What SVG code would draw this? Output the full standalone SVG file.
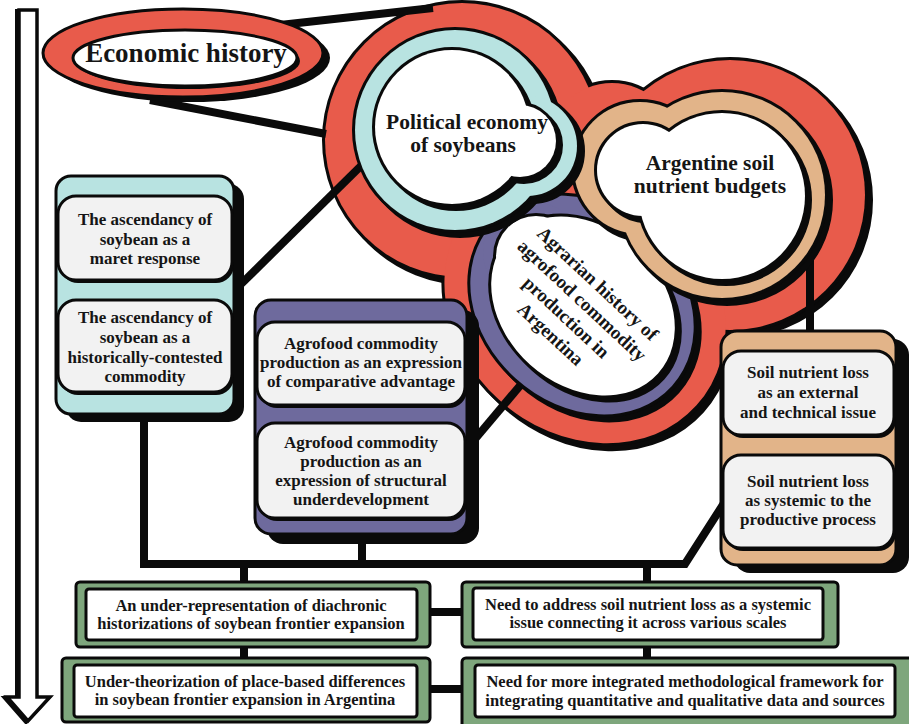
<svg xmlns="http://www.w3.org/2000/svg" width="909" height="724" viewBox="0 0 909 724">
<style>
.t{font-family:'Liberation Serif','Times New Roman',serif;font-weight:bold;fill:#151515;text-anchor:middle}
.tb{font-size:17px}
.tg{font-size:16.5px}
.tc{font-size:21.5px}
.ta{font-size:19px}
.sh{fill:#0a0a0a;stroke:#0a0a0a;stroke-width:6}
.ol{stroke:#0a0a0a;stroke-width:6}
.k{fill:#0a0a0a}
.bd{stroke:#0a0a0a;stroke-width:3}
.conn{stroke:#0a0a0a;stroke-width:8;fill:none;stroke-linejoin:miter}
.red{fill:#e85b4b}
.cyan{fill:#b8e3e1}
.tan{fill:#e2b489}
.pur{fill:#6e6a9d}
.wh{fill:#ffffff}
.lg{fill:#f2f2f2}
.grn{fill:#7ea67c}
</style>
<defs>
<g id="s-red">
<circle cx="462" cy="140" r="137"/>
<circle cx="730" cy="195" r="135"/>
<circle cx="612" cy="148" r="65"/>
<ellipse cx="585" cy="305" rx="150" ry="128" transform="rotate(42 585 305)"/>
</g>
<g id="s-pur-out">
<ellipse cx="582" cy="305" rx="121" ry="99" transform="rotate(42 582 305)"/>
<circle cx="533" cy="252" r="50"/>
</g>
<g id="s-pur-in">
<ellipse cx="583" cy="306" rx="101" ry="79" transform="rotate(42 583 306)"/>
<circle cx="536" cy="256" r="40"/>
</g>
<g id="s-tan-out">
<circle cx="722" cy="195" r="103"/>
<circle cx="640" cy="168" r="66"/>
</g>
<g id="s-tan-in">
<circle cx="722" cy="196" r="83"/>
<circle cx="643" cy="170" r="46"/>
</g>
<g id="s-cyan-out">
<circle cx="455" cy="130" r="100"/>
<circle cx="527" cy="146" r="50"/>
</g>
<g id="s-cyan-in">
<circle cx="452" cy="127" r="77"/>
<circle cx="520" cy="141" r="36"/>
</g>
</defs>

<rect width="909" height="724" fill="#ffffff"/>

<g id="economic-history-field">
<use href="#s-red" class="sh" transform="translate(5,5)"/>
<use href="#s-red" class="red ol"/>
<use href="#s-red" class="red"/>
</g>

<g id="connectors" class="conn">
<line x1="280" y1="25" x2="433" y2="8"/>
<line x1="150" y1="100" x2="326" y2="134"/>
<line x1="236" y1="289" x2="368" y2="159"/>
<line x1="470" y1="445" x2="540" y2="362"/>
<line x1="810" y1="250" x2="810" y2="336"/>
<polyline points="144,410 144,564 685,564 726,500"/>
<line x1="362" y1="530" x2="362" y2="564"/>
<line x1="244" y1="564" x2="244" y2="662"/>
<line x1="647" y1="564" x2="647" y2="662"/>
<line x1="425" y1="612" x2="466" y2="612"/>
<line x1="425" y1="689" x2="466" y2="689"/>
</g>

<g id="node-agrarian-history">
<use href="#s-pur-out" class="sh" transform="translate(5,5)"/>
<use href="#s-pur-out" class="pur ol"/>
<use href="#s-pur-out" class="pur"/>
<use href="#s-pur-in" class="sh" transform="translate(4,4)"/>
<use href="#s-pur-in" class="wh ol"/>
<use href="#s-pur-in" class="wh"/>
<g transform="translate(575,308) rotate(43)" class="t ta">
<text x="0" y="-27">Agrarian history of</text>
<text x="0" y="-4">agrofood commodity</text>
<text x="0" y="19">production in</text>
<text x="0" y="42">Argentina</text>
</g>
</g>

<g id="node-soil-budgets">
<use href="#s-tan-out" class="sh" transform="translate(5,5)"/>
<use href="#s-tan-out" class="tan ol"/>
<use href="#s-tan-out" class="tan"/>
<use href="#s-tan-in" class="sh" transform="translate(4,4)"/>
<use href="#s-tan-in" class="wh ol"/>
<use href="#s-tan-in" class="wh"/>
<text class="t tc" x="710" y="170">Argentine soil</text>
<text class="t tc" x="710" y="193">nutrient budgets</text>
</g>

<g id="node-political-economy">
<use href="#s-cyan-out" class="sh" transform="translate(5,5)"/>
<use href="#s-cyan-out" class="cyan ol"/>
<use href="#s-cyan-out" class="cyan"/>
<use href="#s-cyan-in" class="sh" transform="translate(4,4)"/>
<use href="#s-cyan-in" class="wh ol"/>
<use href="#s-cyan-in" class="wh"/>
<text class="t tc" x="467" y="129">Political economy</text>
<text class="t tc" x="463" y="152">of soybeans</text>
</g>

<g id="node-economic-history">
<ellipse cx="190" cy="58" rx="140" ry="44" class="k"/>
<ellipse cx="183" cy="53" rx="140" ry="44" class="red bd"/>
<ellipse cx="188" cy="61" rx="112" ry="28" class="k"/>
<ellipse cx="185" cy="58" rx="112" ry="28" class="wh bd"/>
<text class="t" x="186" y="62" font-size="27">Economic history</text>
</g>

<g id="node-soybean-box">
<rect x="66" y="184" width="178" height="238" rx="15" class="k"/>
<rect x="56" y="176" width="178" height="238" rx="15" class="cyan bd"/>
<rect x="60" y="199" width="174" height="84" rx="18" class="k"/>
<rect x="58" y="196" width="174" height="84" rx="18" class="lg bd"/>
<rect x="60" y="303" width="174" height="92" rx="18" class="k"/>
<rect x="58" y="300" width="174" height="92" rx="18" class="lg bd"/>
<g class="t tb">
<text x="145" y="225">The ascendancy of</text>
<text x="145" y="245">soybean as a</text>
<text x="145" y="264">maret response</text>
<text x="145" y="323">The ascendancy of</text>
<text x="145" y="343">soybean as a</text>
<text x="145" y="363">historically-contested</text>
<text x="145" y="382">commodity</text>
</g>
</g>

<g id="node-agrofood-box">
<rect x="267" y="310" width="212" height="234" rx="16" class="k"/>
<rect x="255" y="300" width="212" height="234" rx="16" class="pur bd"/>
<rect x="259" y="325" width="208" height="83" rx="18" class="k"/>
<rect x="257" y="322" width="208" height="83" rx="18" class="lg bd"/>
<rect x="259" y="426" width="208" height="95" rx="18" class="k"/>
<rect x="257" y="423" width="208" height="95" rx="18" class="lg bd"/>
<g class="t tb">
<text x="361" y="349">Agrofood commodity</text>
<text x="361" y="368">production as an expression</text>
<text x="361" y="387">of comparative advantage</text>
<text x="361" y="448">Agrofood commodity</text>
<text x="361" y="467">production as an</text>
<text x="361" y="486">expression of structural</text>
<text x="361" y="505">underdevelopment</text>
</g>
</g>

<g id="node-soil-loss-box">
<rect x="734" y="339" width="175" height="234" rx="16" class="k"/>
<rect x="721" y="331" width="175" height="234" rx="16" class="tan bd"/>
<rect x="725" y="354" width="171" height="84" rx="18" class="k"/>
<rect x="723" y="351" width="171" height="84" rx="18" class="lg bd"/>
<rect x="725" y="458" width="171" height="93" rx="18" class="k"/>
<rect x="723" y="455" width="171" height="93" rx="18" class="lg bd"/>
<g class="t tb">
<text x="808" y="378">Soil nutrient loss</text>
<text x="808" y="398">as an external</text>
<text x="808" y="418">and technical issue</text>
<text x="808" y="487">Soil nutrient loss</text>
<text x="808" y="506">as systemic to the</text>
<text x="808" y="525">productive process</text>
</g>
</g>

<g id="node-gap-diachronic">
<rect x="76" y="582" width="354" height="65" rx="4" class="grn bd"/>
<rect x="86" y="589" width="331" height="51" rx="3" class="wh bd" stroke-width="4"/>
<text class="t tg" x="251" y="611">An under-representation of diachronic</text>
<text class="t tg" x="251" y="629">historizations of soybean frontier expansion</text>
</g>

<g id="node-gap-place">
<rect x="62" y="658" width="368" height="64" rx="4" class="grn bd"/>
<rect x="74" y="665" width="343" height="52" rx="3" class="wh bd" stroke-width="4"/>
<text class="t tg" x="245" y="687">Under-theorization of place-based differences</text>
<text class="t tg" x="245" y="705">in soybean frontier expansion in Argentina</text>
</g>

<g id="node-gap-systemic">
<rect x="462" y="582" width="376" height="65" rx="4" class="grn bd"/>
<rect x="473" y="588" width="350" height="52" rx="3" class="wh bd" stroke-width="4"/>
<text class="t tg" x="648" y="610">Need to address soil nutrient loss as a systemic</text>
<text class="t tg" x="648" y="628">issue connecting it across various scales</text>
</g>

<g id="node-gap-methods">
<rect x="462" y="658" width="460" height="70" rx="4" class="grn bd"/>
<rect x="475" y="665" width="420" height="52" rx="3" class="wh bd" stroke-width="4"/>
<text class="t tg" x="685" y="687">Need for more integrated methodological framework for</text>
<text class="t tg" x="685" y="706">integrating quantitative and qualitative data and sources</text>
</g>

<g id="time-arrow">
<path d="M19,10 H37 V697 H50 L28,721 L7,697 H19 Z" fill="#0a0a0a" stroke="#0a0a0a" stroke-width="4" transform="translate(-2,1)"/>
<path d="M19,10 H37 V697 H50 L28,721 L7,697 H19 Z" fill="#ffffff" stroke="#0a0a0a" stroke-width="3.5"/>
</g>
</svg>
